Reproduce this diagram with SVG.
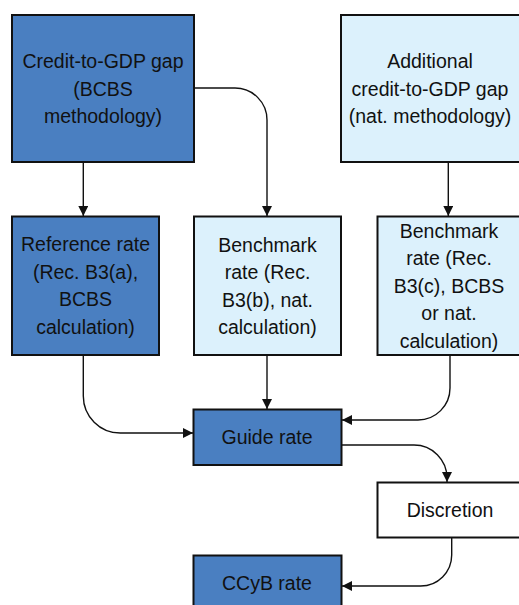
<svg xmlns="http://www.w3.org/2000/svg" width="519" height="605" viewBox="0 0 519 605">
<defs>
<style>
.dark{fill:#4A7FC1;stroke:#111;stroke-width:2}
.light{fill:#DCF1FC;stroke:#111;stroke-width:2}
.white{fill:#fff;stroke:#111;stroke-width:2}
text{font-family:"Liberation Sans",Arial,sans-serif;font-size:19.5px;fill:#111;text-anchor:middle}
.conn path{fill:none;stroke:#111;stroke-width:1.4;marker-end:url(#ah)}
</style>
<marker id="ah" markerUnits="userSpaceOnUse" markerWidth="10" markerHeight="10" viewBox="0 0 10 10" refX="10" refY="5" orient="auto">
<path d="M0,0 L10,5 L0,10 z" fill="#111"/>
</marker>
</defs>
<rect width="519" height="605" fill="#fff"/>
<g id="gap-bcbs">
<rect class="dark" x="12" y="15" width="182" height="147"/>
<text x="103" y="68">Credit-to-GDP gap</text>
<text x="103" y="95.5">(BCBS</text>
<text x="103" y="123">methodology)</text>
</g>
<g id="gap-nat">
<rect class="light" x="341" y="15" width="180" height="147"/>
<text x="430" y="68">Additional</text>
<text x="430" y="95.5">credit-to-GDP gap</text>
<text x="430" y="123">(nat. methodology)</text>
</g>
<g id="ref-rate">
<rect class="dark" x="12" y="216.5" width="147" height="138.5"/>
<text x="85.5" y="251">Reference rate</text>
<text x="85.5" y="278.5">(Rec. B3(a),</text>
<text x="85.5" y="306">BCBS</text>
<text x="85.5" y="333.5">calculation)</text>
</g>
<g id="bench-b">
<rect class="light" x="194" y="216.5" width="147" height="138.5"/>
<text x="267.5" y="251.5">Benchmark</text>
<text x="267.5" y="279">rate (Rec.</text>
<text x="267.5" y="306.5">B3(b), nat.</text>
<text x="267.5" y="334">calculation)</text>
</g>
<g id="bench-c">
<rect class="light" x="377.5" y="216.5" width="143" height="138.5"/>
<text x="449" y="237.5">Benchmark</text>
<text x="449" y="265">rate (Rec.</text>
<text x="449" y="292.5">B3(c), BCBS</text>
<text x="449" y="320">or nat.</text>
<text x="449" y="347.5">calculation)</text>
</g>
<g id="guide">
<rect class="dark" x="193.5" y="409.5" width="148" height="55.5"/>
<text x="267" y="444">Guide rate</text>
</g>
<g id="discretion">
<rect class="white" x="377.5" y="482.5" width="143" height="55"/>
<text x="450" y="517">Discretion</text>
</g>
<g id="ccyb">
<rect class="dark" x="193.5" y="555.5" width="148" height="55"/>
<text x="267" y="590">CCyB rate</text>
</g>
<g class="conn" id="connectors">
<path d="M83.3,162 V216"/>
<path d="M194,88 H235 A32,32 0 0 1 267,120 V216"/>
<path d="M448.3,162 V216"/>
<path d="M83.3,355 V396 A37,37 0 0 0 120.3,433 H193"/>
<path d="M267,355 V409"/>
<path d="M450,355 V388 A32,32 0 0 1 418,420 H342"/>
<path d="M342,445 H414 A33,33 0 0 1 447,478 V482"/>
<path d="M451.7,538 V555 A31,31 0 0 1 420.7,586 H342"/>
</g>
</svg>
